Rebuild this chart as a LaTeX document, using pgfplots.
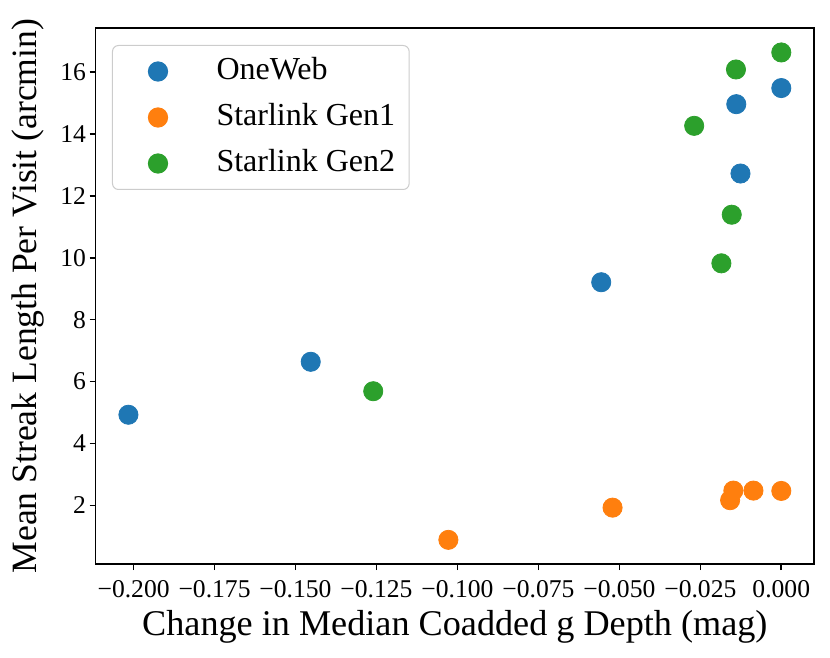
\documentclass[border=0pt]{standalone}
\usepackage{fontspec}
\setmainfont{Liberation Serif}
\usepackage{pgfplots}
\pgfplotsset{compat=1.18}
\definecolor{tabblue}{HTML}{1F77B4}
\definecolor{taborange}{HTML}{FF7F0E}
\definecolor{tabgreen}{HTML}{2CA02C}
\pgfplotsset{mylegimg/.style={legend image code/.code={\path (0pt,0pt) (31pt,0pt); \draw[##1] plot coordinates {(15.5pt,0pt)};}}}
\begin{document}
\begin{tikzpicture}
\begin{axis}[name=ax, at={(0,0)}, anchor=south west, scale only axis,
  width=359.15pt, height=267.85pt,
  xmin=-0.2117, xmax=0.0101, ymin=0.11, ymax=17.41,
  xtick={-0.2,-0.175,-0.15,-0.125,-0.1,-0.075,-0.05,-0.025,0},
  xticklabels={−0.200,−0.175,−0.150,−0.125,−0.100,−0.075,−0.050,−0.025,0.000},
  ytick={2,4,6,8,10,12,14,16},
  yticklabels={2,4,6,8,10,12,14,16},
  tick align=outside, major tick length=3pt,
  tick style={black, line width=0.8pt},
  axis line style={line width=0.8pt},
  xtick pos=bottom, ytick pos=left,
  xticklabel style={font=\fontsize{12.8}{15}\selectfont, anchor=base, inner sep=0pt, yshift=-13.5pt},
  yticklabel style={font=\fontsize{12.8}{15}\selectfont, anchor=east, inner sep=0pt, xshift=-1.7pt},
  xlabel={Change in Median Coadded g Depth (mag)},
  ylabel={Mean Streak Length Per Visit (arcmin)},
  xlabel style={font=\fontsize{18.1}{21}\selectfont, at={(axis description cs:0.5,-0.1338)}, anchor=base, inner sep=0pt},
  ylabel style={font=\fontsize{17.8}{21}\selectfont, at={(axis description cs:-0.0831,0.5)}, anchor=base, inner sep=0pt},
  legend style={at={(axis description cs:0,1)}, anchor=north west, xshift=8.15pt, yshift=-8.35pt,
    draw=black!20, line width=0.5pt, rounded corners=3pt, fill=white,
    font=\fontsize{16}{19}\selectfont, inner xsep=7pt, inner ysep=5.5pt,
    nodes={inner sep=0pt, text height=11.5pt, text depth=3.5pt}, row sep=8pt,
    /tikz/every odd column/.append style={column sep=13.5pt}},
  legend cell align=left,
]
\addplot[only marks, mylegimg, mark=*, color=tabblue, mark size=4.8pt, mark options={draw=none, fill=tabblue}]
  coordinates {(-0.2016,4.93) (-0.1453,6.64) (-0.0556,9.21) (-0.0126,12.72) (-0.0139,14.96) (0,15.48)};
\addlegendentry{OneWeb}
\addplot[only marks, mylegimg, mark=*, color=taborange, mark size=4.8pt, mark options={draw=none, fill=taborange}]
  coordinates {(-0.1028,0.89) (-0.0521,1.93) (-0.0158,2.17) (-0.0148,2.48) (-0.0086,2.48) (0,2.47)};
\addlegendentry{Starlink Gen1}
\addplot[only marks, mylegimg, mark=*, color=tabgreen, mark size=4.8pt, mark options={draw=none, fill=tabgreen}]
  coordinates {(-0.1260,5.69) (-0.0269,14.26) (-0.0185,9.82) (-0.0153,11.39) (-0.0140,16.08) (0,16.63)};
\addlegendentry{Starlink Gen2}
\end{axis}
\pgfresetboundingbox
\path[use as bounding box] ([shift={(-47.85pt,-47pt)}]ax.south west) rectangle ([shift={(8pt,14.15pt)}]ax.north east);
\end{tikzpicture}
\end{document}
